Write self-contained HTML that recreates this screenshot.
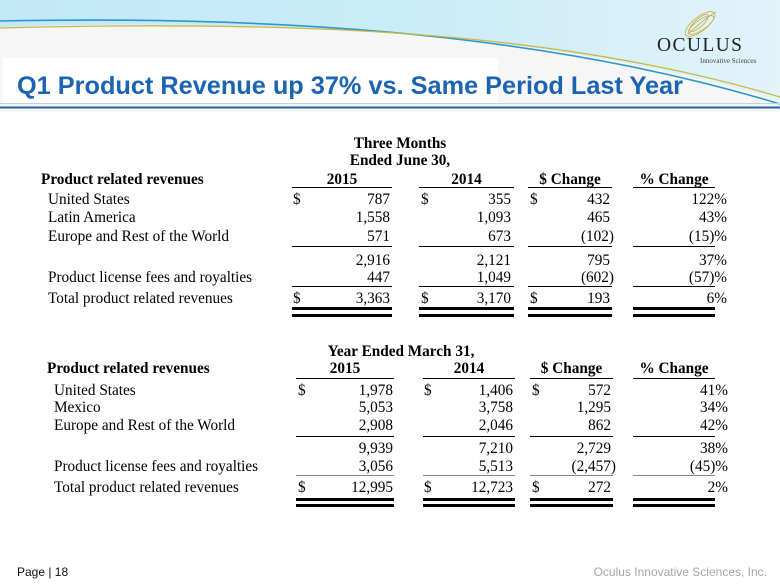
<!DOCTYPE html>
<html>
<head>
<meta charset="utf-8">
<style>
  html,body{margin:0;padding:0;}
  body{width:780px;height:586px;position:relative;overflow:hidden;background:#fff;}
  .s{position:absolute;font-family:"Liberation Serif","Times New Roman",serif;font-size:15.25px;line-height:16px;white-space:nowrap;color:#000;}
  .b{font-weight:bold;}
  .c{text-align:center;}
  .l{position:absolute;background:#000;height:1px;}
  .d{position:absolute;background:#000;height:3px;}
  .g{background:#8a8a8a;}
</style>
</head>
<body>

<!-- Header graphic -->
<svg width="780" height="112" style="position:absolute;left:0;top:0" xmlns="http://www.w3.org/2000/svg">
  <defs>
    <linearGradient id="gb" x1="0" y1="0" x2="1" y2="0">
      <stop offset="0" stop-color="#c3e8f7"/>
      <stop offset="0.55" stop-color="#cbecf8"/>
      <stop offset="1" stop-color="#e2f3fa"/>
    </linearGradient>
  </defs>
  <rect x="0" y="0" width="780" height="112" fill="#f6f6f6"/>
  <path d="M0,0 H780 V101 C560,33 300,18 0,27 Z" fill="url(#gb)"/>
  <path d="M0,21 C300,15 560,37 780,104" stroke="#2b98cc" stroke-width="1.6" fill="none"/>
  <path d="M0,28 C300,20 560,31 780,97" stroke="#c9b748" stroke-width="1.3" fill="none"/>
  <rect x="3" y="58" width="495" height="45" fill="#ffffff"/>
  <rect x="0" y="103" width="780" height="1" fill="#bcd4e8"/>
  <rect x="0" y="106.5" width="780" height="2" fill="#2361ae"/>
  <!-- logo swirl -->
  <g fill="none" stroke="#c6ad3e" stroke-width="0.8">
    <ellipse cx="700" cy="24" rx="18" ry="7" transform="rotate(-38 700 24)"/>
    <ellipse cx="701" cy="25" rx="15" ry="5" transform="rotate(-34 701 25)"/>
    <ellipse cx="699" cy="23" rx="12" ry="4" transform="rotate(-42 699 23)"/>
    <path d="M688,34 C695,28 705,18 716,12"/>
  </g>
</svg>

<div style="position:absolute;left:657px;top:36px;font-family:'Liberation Serif',serif;font-size:19.5px;line-height:20px;letter-spacing:1.4px;color:#222;white-space:nowrap;">OCULUS</div>
<div style="position:absolute;left:700px;top:57px;font-family:'Liberation Serif',serif;font-size:7px;line-height:8px;color:#444;white-space:nowrap;">Innovative Sciences</div>

<div style="position:absolute;left:17px;top:72px;font-family:'Liberation Sans',Arial,sans-serif;font-weight:bold;font-size:25.3px;line-height:28px;color:#1b63b3;white-space:nowrap;">Q1 Product Revenue up 37% vs. Same Period Last Year</div>

<!-- ============ TABLE 1 ============ -->
<div class="s b c" style="left:300px;width:200px;top:136px;">Three Months</div>
<div class="s b c" style="left:300px;width:200px;top:153px;">Ended June 30,</div>
<div class="s b" style="left:41px;top:172px;">Product related revenues</div>
<div class="s b c" style="left:292px;width:100px;top:172px;">2015</div>
<div class="s b c" style="left:419px;width:95px;top:172px;">2014</div>
<div class="s b c" style="left:528px;width:84px;top:172px;">$ Change</div>
<div class="s b c" style="left:633px;width:82px;top:172px;">% Change</div>

<div class="l" style="left:292px;width:100px;top:187px;"></div>
<div class="l" style="left:419px;width:95px;top:187px;"></div>
<div class="l" style="left:528px;width:84px;top:187px;"></div>
<div class="l" style="left:633px;width:82px;top:187px;"></div>

<!-- rows -->
<div class="s" style="left:48px;top:192px;">United States</div>
<div class="s" style="left:48px;top:210px;">Latin America</div>
<div class="s" style="left:48px;top:229px;">Europe and Rest of the World</div>
<div class="s" style="left:48px;top:270px;">Product license fees and royalties</div>
<div class="s" style="left:48px;top:291px;">Total product related revenues</div>

<div class="s" style="left:293px;top:192px;">$</div>
<div class="s" style="left:421px;top:192px;">$</div>
<div class="s" style="left:530px;top:192px;">$</div>
<div class="s" style="left:293px;top:291px;">$</div>
<div class="s" style="left:421px;top:291px;">$</div>
<div class="s" style="left:530px;top:291px;">$</div>

<!-- col1 -->
<div class="s" style="right:390px;top:192px;">787</div>
<div class="s" style="right:390px;top:210px;">1,558</div>
<div class="s" style="right:390px;top:229px;">571</div>
<div class="s" style="right:390px;top:253px;">2,916</div>
<div class="s" style="right:390px;top:270px;">447</div>
<div class="s" style="right:390px;top:291px;">3,363</div>
<!-- col2 -->
<div class="s" style="right:269px;top:192px;">355</div>
<div class="s" style="right:269px;top:210px;">1,093</div>
<div class="s" style="right:269px;top:229px;">673</div>
<div class="s" style="right:269px;top:253px;">2,121</div>
<div class="s" style="right:269px;top:270px;">1,049</div>
<div class="s" style="right:269px;top:291px;">3,170</div>
<!-- col3 -->
<div class="s" style="right:170px;top:192px;">432</div>
<div class="s" style="right:170px;top:210px;">465</div>
<div class="s" style="right:166px;top:229px;">(102)</div>
<div class="s" style="right:170px;top:253px;">795</div>
<div class="s" style="right:166px;top:270px;">(602)</div>
<div class="s" style="right:170px;top:291px;">193</div>
<!-- col4 -->
<div class="s" style="right:53px;top:192px;">122%</div>
<div class="s" style="right:53px;top:210px;">43%</div>
<div class="s" style="right:53px;top:229px;">(15)%</div>
<div class="s" style="right:53px;top:253px;">37%</div>
<div class="s" style="right:53px;top:270px;">(57)%</div>
<div class="s" style="right:53px;top:291px;">6%</div>

<div class="l" style="left:292px;width:100px;top:246px;"></div>
<div class="l" style="left:419px;width:95px;top:246px;"></div>
<div class="l" style="left:528px;width:84px;top:246px;"></div>
<div class="l" style="left:633px;width:82px;top:246px;"></div>

<div class="l" style="left:292px;width:100px;top:286px;"></div>
<div class="l" style="left:419px;width:95px;top:286px;"></div>
<div class="l" style="left:528px;width:84px;top:286px;"></div>
<div class="l" style="left:633px;width:82px;top:286px;"></div>

<div class="d" style="left:292px;width:100px;top:307px;"></div>
<div class="d" style="left:419px;width:95px;top:307px;"></div>
<div class="d" style="left:528px;width:84px;top:307px;"></div>
<div class="d" style="left:633px;width:82px;top:307px;"></div>
<div class="d" style="left:292px;width:100px;top:314px;"></div>
<div class="d" style="left:419px;width:95px;top:314px;"></div>
<div class="d" style="left:528px;width:84px;top:314px;"></div>
<div class="d" style="left:633px;width:82px;top:314px;"></div>

<!-- ============ TABLE 2 ============ -->
<div class="s b c" style="left:301px;width:200px;top:344px;">Year Ended March 31,</div>
<div class="s b" style="left:47px;top:361px;">Product related revenues</div>
<div class="s b c" style="left:296px;width:98px;top:361px;">2015</div>
<div class="s b c" style="left:423px;width:92px;top:361px;">2014</div>
<div class="s b c" style="left:530px;width:83px;top:361px;">$ Change</div>
<div class="s b c" style="left:633px;width:82px;top:361px;">% Change</div>

<div class="l" style="left:296px;width:98px;top:378px;"></div>
<div class="l" style="left:423px;width:92px;top:378px;"></div>
<div class="l" style="left:530px;width:83px;top:378px;"></div>
<div class="l" style="left:633px;width:82px;top:378px;"></div>

<div class="s" style="left:54px;top:383px;">United States</div>
<div class="s" style="left:54px;top:400px;">Mexico</div>
<div class="s" style="left:54px;top:418px;">Europe and Rest of the World</div>
<div class="s" style="left:54px;top:459px;">Product license fees and royalties</div>
<div class="s" style="left:54px;top:480px;">Total product related revenues</div>

<div class="s" style="left:298px;top:383px;">$</div>
<div class="s" style="left:424px;top:383px;">$</div>
<div class="s" style="left:532px;top:383px;">$</div>
<div class="s" style="left:298px;top:480px;">$</div>
<div class="s" style="left:424px;top:480px;">$</div>
<div class="s" style="left:532px;top:480px;">$</div>

<!-- col1 -->
<div class="s" style="right:387px;top:383px;">1,978</div>
<div class="s" style="right:387px;top:400px;">5,053</div>
<div class="s" style="right:387px;top:418px;">2,908</div>
<div class="s" style="right:387px;top:441px;">9,939</div>
<div class="s" style="right:387px;top:459px;">3,056</div>
<div class="s" style="right:387px;top:480px;">12,995</div>
<!-- col2 -->
<div class="s" style="right:267px;top:383px;">1,406</div>
<div class="s" style="right:267px;top:400px;">3,758</div>
<div class="s" style="right:267px;top:418px;">2,046</div>
<div class="s" style="right:267px;top:441px;">7,210</div>
<div class="s" style="right:267px;top:459px;">5,513</div>
<div class="s" style="right:267px;top:480px;">12,723</div>
<!-- col3 -->
<div class="s" style="right:169px;top:383px;">572</div>
<div class="s" style="right:169px;top:400px;">1,295</div>
<div class="s" style="right:169px;top:418px;">862</div>
<div class="s" style="right:169px;top:441px;">2,729</div>
<div class="s" style="right:164px;top:459px;">(2,457)</div>
<div class="s" style="right:169px;top:480px;">272</div>
<!-- col4 -->
<div class="s" style="right:52px;top:383px;">41%</div>
<div class="s" style="right:52px;top:400px;">34%</div>
<div class="s" style="right:52px;top:418px;">42%</div>
<div class="s" style="right:52px;top:441px;">38%</div>
<div class="s" style="right:52px;top:459px;">(45)%</div>
<div class="s" style="right:52px;top:480px;">2%</div>

<div class="l" style="left:296px;width:98px;top:436px;"></div>
<div class="l" style="left:423px;width:92px;top:436px;"></div>
<div class="l" style="left:530px;width:83px;top:436px;"></div>
<div class="l" style="left:633px;width:82px;top:436px;"></div>

<div class="l g" style="left:296px;width:98px;top:475px;"></div>
<div class="l g" style="left:423px;width:92px;top:475px;"></div>
<div class="l g" style="left:530px;width:83px;top:475px;"></div>
<div class="l g" style="left:633px;width:82px;top:475px;"></div>

<div class="d" style="left:296px;width:98px;top:498px;"></div>
<div class="d" style="left:423px;width:92px;top:498px;"></div>
<div class="d" style="left:530px;width:83px;top:498px;"></div>
<div class="d" style="left:633px;width:82px;top:498px;"></div>
<div class="d" style="left:296px;width:98px;top:504px;"></div>
<div class="d" style="left:423px;width:92px;top:504px;"></div>
<div class="d" style="left:530px;width:83px;top:504px;"></div>
<div class="d" style="left:633px;width:82px;top:504px;"></div>

<!-- Footer -->
<div style="position:absolute;left:17px;top:565px;font-family:'Liberation Sans',Arial,sans-serif;font-size:12px;line-height:14px;color:#111;white-space:nowrap;">Page | 18</div>
<div style="position:absolute;right:13px;top:565px;font-family:'Liberation Sans',Arial,sans-serif;font-size:12px;line-height:14px;color:#a6a6a6;white-space:nowrap;">Oculus Innovative Sciences, Inc.</div>

</body>
</html>
